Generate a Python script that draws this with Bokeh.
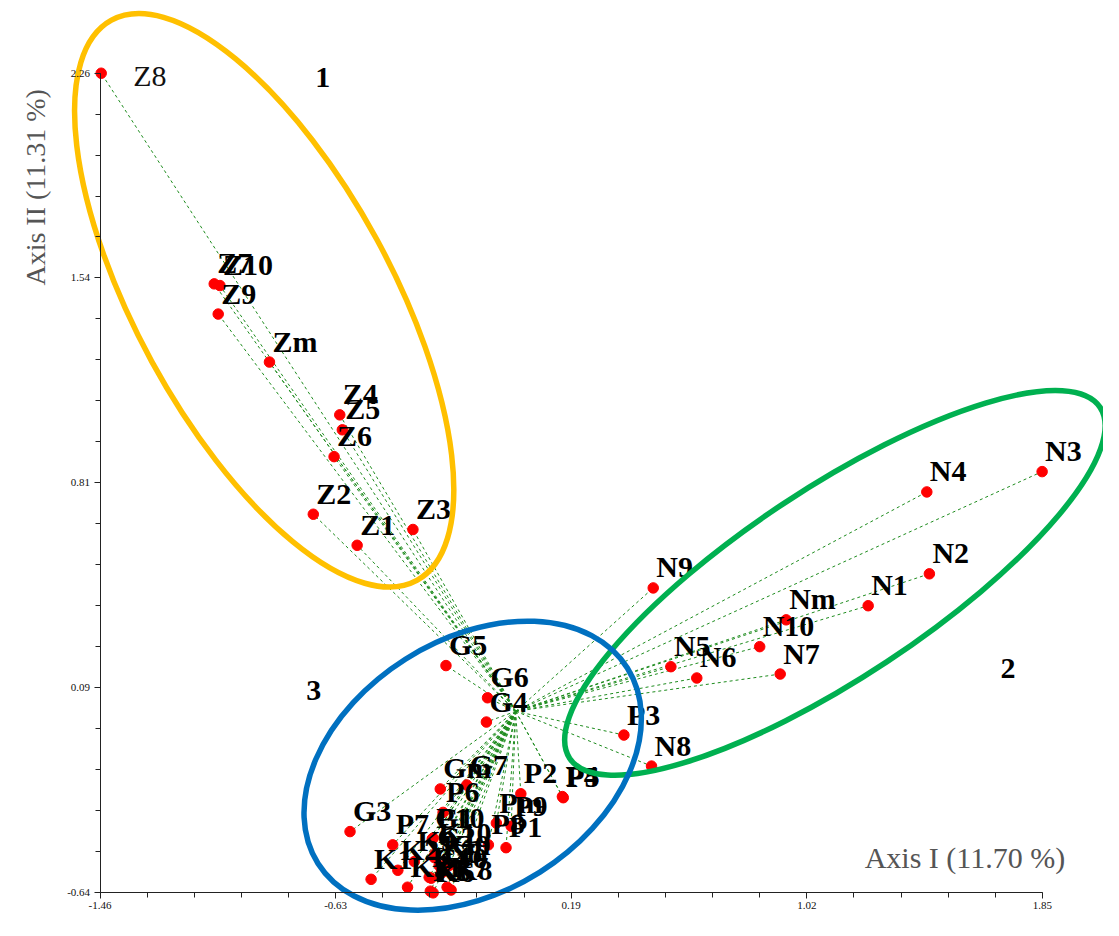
import math
from bokeh.plotting import figure
from bokeh.models import Range1d, LinearAxis, FixedTicker, ColumnDataSource
from bokeh.core.properties import value
from bokeh.embed import file_html
from bokeh.resources import INLINE

# ---------------- data ----------------
z_labels = ["Z1", "Z2", "Z3", "Z4", "Z5", "Z6", "Z7", "Z8", "Z9", "Z10", "Zm"]
z_x = [-0.557, -0.711, -0.361, -0.618, -0.609, -0.638, -1.059, -1.456, -1.045, -1.039, -0.865]
z_y = [0.588, 0.698, 0.644, 1.050, 0.997, 0.902, 1.514, 2.260, 1.407, 1.508, 1.237]

n_labels = ["N1", "N2", "N3", "N4", "N5", "N6", "N7", "N8", "N9", "N10", "Nm"]
n_x = [1.238, 1.453, 1.849, 1.444, 0.545, 0.636, 0.929, 0.477, 0.483, 0.857, 0.950]
n_y = [0.374, 0.487, 0.849, 0.777, 0.158, 0.118, 0.132, -0.194, 0.437, 0.229, 0.324]

g_labels = ["G1", "G2", "G3", "G4", "G5", "G6", "G7", "G8", "G9", "G10", "Gm"]
g_x = [-0.293, -0.286, -0.582, -0.103, -0.245, -0.099, -0.172, -0.262, -0.234, -0.297, -0.265]
g_y = [-0.452, -0.518, -0.426, -0.038, 0.162, 0.048, -0.261, -0.574, -0.546, -0.591, -0.275]

p_labels = ["P1", "P2", "P3", "P4", "P5", "P6", "P7", "P8", "P9", "P10", "Pm"]
p_x = [-0.034, 0.018, 0.380, 0.164, 0.167, -0.255, -0.432, -0.096, -0.016, -0.290, -0.068]
p_y = [-0.483, -0.292, -0.084, -0.302, -0.306, -0.358, -0.473, -0.473, -0.407, -0.449, -0.396]

k_labels = ["K1", "K2", "K3", "K4", "K5", "K6", "K7", "K8", "K9", "K10", "Km"]
k_x = [-0.508, -0.414, -0.380, -0.304, -0.300, -0.290, -0.241, -0.227, -0.356, -0.283, -0.269]
k_y = [-0.595, -0.563, -0.623, -0.588, -0.637, -0.643, -0.623, -0.633, -0.532, -0.504, -0.546]

origin = (0.0, 0.0)

x_ticks = [-1.46, -0.6325, 0.195, 1.0225, 1.85]
x_tick_labels = ["-1.46", "-0.63", "0.19", "1.02", "1.85"]
y_ticks = [2.26, 1.535, 0.81, 0.085, -0.64]
y_tick_labels = ["2.26", "1.54", "0.81", "0.09", "-0.64"]

x_title = "Axis I (11.70 %)"
y_title = "Axis II (11.31 %)"

# group ellipses (centre in data units, size in screen px, angle in degrees)
ell_cx = [-0.8835, 1.1212, -0.1512]
ell_cy = [1.4558, 0.4549, -0.1926]
ell_w = [638, 636, 366]
ell_h = [256, 189, 252]
ell_angle = [-61.4, 33.5, 32.3]
ell_color = ["#FFC000", "#00B050", "#0070C0"]

group_names = ["1", "2", "3"]
group_x = [-0.6775, 1.729, -0.709]
group_y = [2.246, 0.150, 0.074]

# ---------------- figure ----------------
labels = z_labels + n_labels + g_labels + p_labels + k_labels
xs = z_x + n_x + g_x + p_x + k_x
ys = z_y + n_y + g_y + p_y + k_y

p = figure(width=1103, height=920, output_backend="svg", toolbar_location=None,
           x_range=Range1d(-1.8097, 2.0646), y_range=Range1d(-0.7409, 2.5176),
           x_axis_location=None, y_axis_location=None, min_border=0)
p.outline_line_color = None
p.xgrid.visible = False
p.ygrid.visible = False
p.background_fill_color = "white"

major_step_x = x_ticks[1] - x_ticks[0]
major_step_y = y_ticks[0] - y_ticks[1]
minor_x = [x_ticks[0] + i * major_step_x / 5 for i in range(21)]
minor_y = [y_ticks[-1] + i * major_step_y / 5 for i in range(21)]

xaxis = LinearAxis(fixed_location=y_ticks[-1], bounds=(x_ticks[0], x_ticks[-1]),
                   ticker=FixedTicker(ticks=x_ticks, minor_ticks=minor_x))
xaxis.major_label_overrides = dict(zip(x_ticks, x_tick_labels))
yaxis = LinearAxis(fixed_location=x_ticks[0], bounds=(y_ticks[-1], y_ticks[0]),
                   ticker=FixedTicker(ticks=y_ticks, minor_ticks=minor_y))
yaxis.major_label_overrides = dict(zip(y_ticks, y_tick_labels))
for ax in (xaxis, yaxis):
    ax.axis_line_color = "#222222"
    ax.axis_line_width = 1
    ax.major_tick_line_color = "#222222"
    ax.minor_tick_line_color = "#222222"
    ax.major_tick_out = 6
    ax.major_tick_in = 0
    ax.minor_tick_out = 5
    ax.minor_tick_in = 0
    ax.major_label_text_font = "Liberation Serif"
    ax.major_label_text_font_size = "11px"
    ax.major_label_text_color = "#111111"
    ax.major_label_standoff = 4
p.add_layout(xaxis, "below")
p.add_layout(yaxis, "left")

# star lines from origin
src = ColumnDataSource(dict(x=xs, y=ys, label=labels,
                            x0=[origin[0]] * len(xs), y0=[origin[1]] * len(xs)))
p.segment(x0="x0", y0="y0", x1="x", y1="y", source=src,
          line_color="#1E8C1E", line_width=1, line_dash="3 3")

p.scatter(x="x", y="y", source=src, size=10.5, fill_color="#FF0000", line_color="#FF0000")

# labels
main_idx = [i for i, l in enumerate(labels) if l != "Z8"]
src_lab = ColumnDataSource(dict(x=[xs[i] for i in main_idx], y=[ys[i] for i in main_idx],
                                label=[labels[i] for i in main_idx]))
p.text(x="x", y="y", text="label", source=src_lab, x_offset=3, y_offset=-21,
       text_font=value("Liberation Serif"), text_font_style="bold",
       text_font_size="30px", text_baseline="middle", text_color="black")
z8 = labels.index("Z8")
p.text(x=[xs[z8]], y=[ys[z8]], text=[labels[z8]], x_offset=32, y_offset=2,
       text_font=value("Liberation Serif"), text_font_size="30px",
       text_baseline="middle", text_color="#111111")

# group ellipses
p.ellipse(x=ell_cx, y=ell_cy, width=ell_w, height=ell_h, width_units="screen",
          height_units="screen", angle=[math.radians(a) for a in ell_angle],
          fill_color=None, line_color=ell_color, line_width=5.5)

# group numbers
p.text(x=group_x, y=group_y, text=group_names, text_font=value("Liberation Serif"),
       text_font_style="bold", text_font_size="30px", text_align="center",
       text_baseline="middle", text_color="black")

# axis titles
p.text(x=[1.930], y=[-0.518], text=[x_title], text_font=value("Liberation Serif"),
       text_font_size="30px", text_align="right", text_baseline="middle",
       text_color="#555555")
p.text(x=[-1.6885], y=[1.856], text=[y_title], text_font=value("Liberation Serif"),
       text_font_size="28px", text_align="center", text_baseline="middle",
       angle=math.pi / 2, text_color="#555555")

open("out.html", "w").write(file_html(p, INLINE))
